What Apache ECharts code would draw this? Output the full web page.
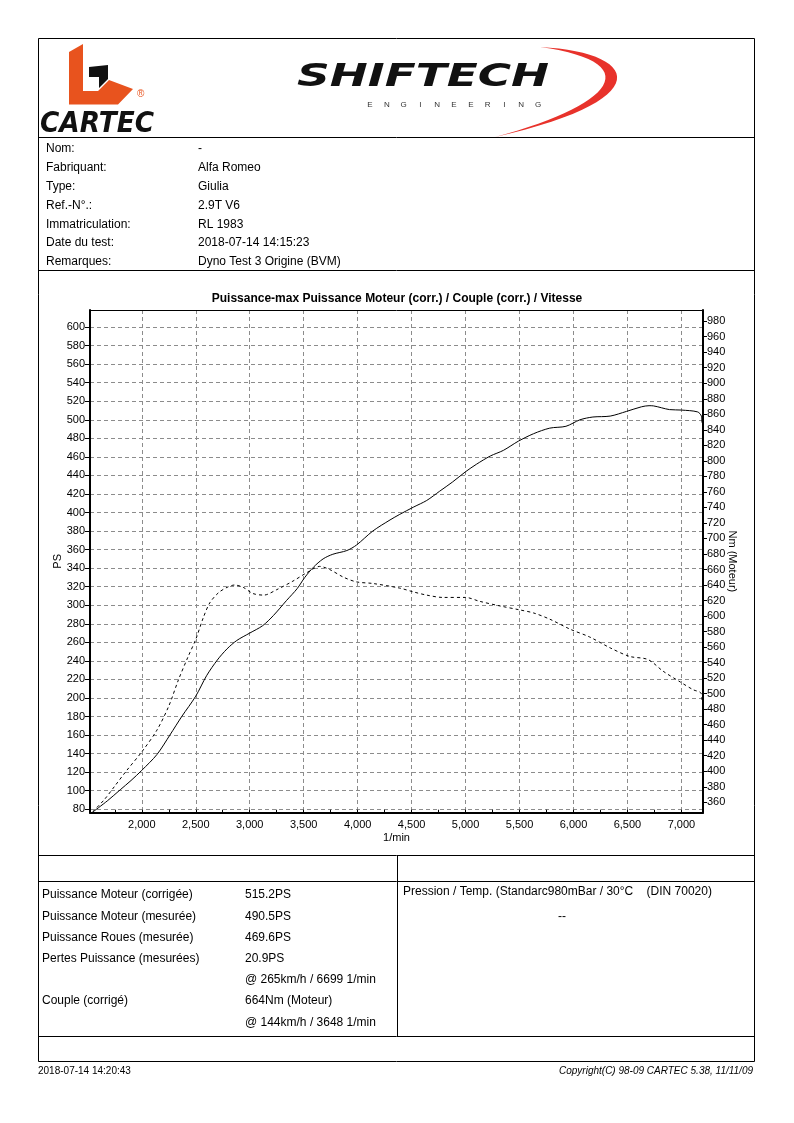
<!DOCTYPE html>
<html>
<head>
<meta charset="utf-8">
<title>Puissance / Couple</title>
<script src="https://cdn.jsdelivr.net/npm/echarts@6/dist/echarts.min.js"></script>
<style>
html, body { margin: 0; padding: 0; background: #fff; }
#container { width: 794px; height: 1123px; }
</style>
</head>
<body>
<div id="container"></div>
<script>
var powerRpm = [1545, 1680, 1800, 1900, 2000, 2140, 2260, 2370, 2500, 2600, 2700, 2790, 2880, 3000, 3120, 3220, 3340, 3440, 3510, 3590, 3680, 3770, 3900, 3990, 4140, 4300, 4390, 4520, 4640, 4760, 4880, 5000, 5100, 5230, 5350, 5490, 5630, 5780, 5930, 6060, 6180, 6340, 6490, 6630, 6700, 6740, 6890, 7000, 7150, 7185, 7190];
var powerPs = [77, 89, 101, 111, 122, 139, 160, 180, 202, 224, 241, 253, 262, 270, 278, 289, 305, 318, 330, 341, 350, 355, 359, 365, 380, 392, 398, 406, 413, 423, 433, 444, 452, 461, 467, 477, 485, 491, 493, 500, 503, 504, 509, 514, 515.2, 515, 511, 510.5, 508.5, 504, 497];
var torqueRpm = [1545, 1650, 1750, 1860, 2000, 2140, 2250, 2340, 2430, 2500, 2570, 2630, 2710, 2790, 2860, 2940, 3030, 3130, 3250, 3400, 3530, 3648, 3740, 3870, 3990, 4140, 4390, 4520, 4640, 4790, 5000, 5130, 5320, 5500, 5630, 5780, 5970, 6150, 6340, 6520, 6690, 6830, 6990, 7110, 7180, 7190];
var torqueNm = [348, 363, 381, 401, 425, 453, 484, 518, 548, 570, 598, 617, 630, 637, 640, 637, 629, 627, 634, 645, 656, 664, 660, 650, 644, 642, 636, 631, 627, 624, 624, 619, 613, 608, 604, 596, 583, 573, 559, 548, 544, 529, 515, 505, 501, 492];

// graduations
var rpmLabels = [2000, 2500, 3000, 3500, 4000, 4500, 5000, 5500, 6000, 6500, 7000];
var rpmTicks = [1750, 2000, 2250, 2500, 2750, 3000, 3250, 3500, 3750, 4000, 4250, 4500, 4750, 5000, 5250, 5500, 5750, 6000, 6250, 6500, 6750, 7000];
var psTicks = [80, 100, 120, 140, 160, 180, 200, 220, 240, 260, 280, 300, 320, 340, 360, 380, 400, 420, 440, 460, 480, 500, 520, 540, 560, 580, 600];
var nmTicks = [360, 380, 400, 420, 440, 460, 480, 500, 520, 540, 560, 580, 600, 620, 640, 660, 680, 700, 720, 740, 760, 780, 800, 820, 840, 860, 880, 900, 920, 940, 960, 980];

// fiche
var infoLabels = ['Nom:', 'Fabriquant:', 'Type:', 'Ref.-N°.:', 'Immatriculation:', 'Date du test:', 'Remarques:'];
var infoValues = ['-', 'Alfa Romeo', 'Giulia', '2.9T V6', 'RL 1983', '2018-07-14 14:15:23', 'Dyno Test 3 Origine (BVM)'];
var resLabels = ['Puissance Moteur (corrigée)', 'Puissance Moteur (mesurée)', 'Puissance Roues (mesurée)', 'Pertes Puissance (mesurées)', '', 'Couple (corrigé)', ''];
var resValues = ['515.2PS', '490.5PS', '469.6PS', '20.9PS', '@ 265km/h / 6699 1/min', '664Nm (Moteur)', '@ 144km/h / 3648 1/min'];

var FONT = '"Liberation Sans", Arial, sans-serif';

function txt(x, y, s, opt) {
    opt = opt || {};
    return {
        type: 'text', x: x, y: y, silent: true,
        scaleX: opt.sx || 1,
        style: {
            text: s, x: 0, y: 0,
            fontSize: opt.size || 12,
            fontFamily: opt.family || FONT,
            fontWeight: opt.weight || 'normal',
            fontStyle: opt.style || 'normal',
            fill: opt.color || '#000',
            align: opt.align || 'left',
            verticalAlign: 'middle'
        }
    };
}

function hline(x1, x2, y) {
    return {type: 'line', silent: true, shape: {x1: x1, y1: y, x2: x2, y2: y}, style: {stroke: '#000', lineWidth: 1}};
}

function vline(x, y1, y2) {
    return {type: 'line', silent: true, shape: {x1: x, y1: y1, x2: x, y2: y2}, style: {stroke: '#000', lineWidth: 1}};
}

// points d'une courbe de Bézier cubique (pour le logo)
function bez(p0, p1, p2, p3, n) {
    var pts = [];
    for (var t = 0; t <= n; t++) {
        var u = t / n, a = (1 - u) * (1 - u) * (1 - u), b = 3 * u * (1 - u) * (1 - u), c = 3 * u * u * (1 - u), d = u * u * u;
        pts.push([a * p0[0] + b * p1[0] + c * p2[0] + d * p3[0], a * p0[1] + b * p1[1] + c * p2[1] + d * p3[1]]);
    }
    return pts;
}

function rpmFmt(v) {
    var s = String(v);
    return s.slice(0, s.length - 3) + ',' + s.slice(s.length - 3);
}

var graphics = [];
// cadre et séparations
graphics.push({type: 'rect', silent: true, shape: {x: 38.5, y: 38.5, width: 716, height: 1023}, style: {fill: 'none', stroke: '#000', lineWidth: 1}});
graphics.push(hline(38.5, 754.5, 137.5));
graphics.push(hline(38.5, 754.5, 270.5));
graphics.push(hline(38.5, 754.5, 855.5));
graphics.push(hline(38.5, 754.5, 881.5));
graphics.push(hline(38.5, 754.5, 1036.5));
graphics.push(vline(397.5, 855.5, 1036.5));

// logo CARTEC
graphics.push({type: 'polygon', silent: true, shape: {points: [[69, 52], [83, 44], [83, 91], [98, 91], [109, 80], [133, 89], [118, 104.5], [69, 104.5]]}, style: {fill: '#e8531e'}});
graphics.push({type: 'polygon', silent: true, shape: {points: [[89, 67], [108, 65], [108, 79], [99, 88], [99, 77], [89, 77]]}, style: {fill: '#111'}});
graphics.push(txt(137, 94, '®', {size: 10, color: '#e8531e'}));
graphics.push(txt(40, 125, 'CARTEC', {size: 28, weight: 'bold', style: 'italic', family: '"DejaVu Sans", sans-serif', sx: 0.94, color: '#111'}));

// logo SHIFTECH
var swoosh = bez([540, 47], [640, 52], [660, 100], [495, 137], 30).concat(bez([495, 137], [615, 105], [648, 62], [540, 47], 30));
graphics.push({type: 'polygon', silent: true, shape: {points: swoosh}, style: {fill: '#e8322b'}});
graphics.push(txt(297, 78, 'SHIFTECH', {size: 32, weight: 'bold', style: 'italic', family: '"DejaVu Sans", sans-serif', sx: 1.42, color: '#111'}));
var eng = 'ENGINEERING';
for (var k = 0; k < eng.length; k++) {
    graphics.push(txt(370 + k * 16.8, 105, eng.charAt(k), {size: 8, align: 'center', color: '#333'}));
}

// fiche véhicule
for (var i = 0; i < infoLabels.length; i++) {
    graphics.push(txt(46, 149 + i * 18.8, infoLabels[i]));
    graphics.push(txt(198, 149 + i * 18.8, infoValues[i]));
}

// résultats
for (var j = 0; j < resLabels.length; j++) {
    if (resLabels[j]) graphics.push(txt(42, 895 + j * 21.2, resLabels[j]));
    graphics.push(txt(245, 895 + j * 21.2, resValues[j]));
}
graphics.push(txt(403, 892, 'Pression / Temp. (Standarc980mBar / 30°C    (DIN 70020)'));
graphics.push(txt(562, 917, '--', {align: 'center'}));

// pied de page
graphics.push(txt(38, 1071, '2018-07-14 14:20:43', {size: 10}));
graphics.push(txt(753, 1071, 'Copyright(C) 98-09 CARTEC 5.38, 11/11/09', {size: 10, style: 'italic', align: 'right'}));

var powerData = powerRpm.map(function (r, i) { return [r, powerPs[i]]; });
var torqueData = torqueRpm.map(function (r, i) { return [r, torqueNm[i]]; });

var gridDash = {color: '#8c8c8c', width: 1, type: [4, 3]};
var axisText = {color: '#000', fontSize: 11, fontFamily: FONT};

var myChart = echarts.init(document.getElementById('container'), null, {renderer: 'canvas'});
var option = {
    animation: false,
    backgroundColor: '#fff',
    title: {
        text: 'Puissance-max Puissance Moteur (corr.) / Couple (corr.) / Vitesse',
        left: 'center',
        top: 288,
        textStyle: {fontSize: 12, fontWeight: 'bold', color: '#000', fontFamily: FONT}
    },
    grid: {left: 90, top: 310, width: 613, height: 502.7, containLabel: false},
    xAxis: [
        {
            type: 'value', min: 1520, max: 7200, position: 'bottom',
            axisLine: {show: true, lineStyle: {color: '#000', width: 2}},
            axisTick: {show: true, inside: true, length: 3, customValues: rpmTicks, lineStyle: {color: '#000', width: 1}},
            axisLabel: {show: true, customValues: rpmLabels, formatter: rpmFmt, margin: 7, color: axisText.color, fontSize: axisText.fontSize, fontFamily: FONT},
            splitLine: {show: false},
            name: '1/min', nameLocation: 'middle', nameGap: 20, nameMoveOverlap: false,
            nameTextStyle: axisText
        },
        {
            type: 'value', min: 1520, max: 7200, position: 'top',
            axisLine: {show: true, lineStyle: {color: '#000', width: 1}},
            axisTick: {show: false, customValues: rpmLabels},
            axisLabel: {show: false, customValues: rpmLabels},
            splitLine: {show: true, lineStyle: gridDash}
        }
    ],
    yAxis: [
        {
            type: 'value', min: 76.3, max: 618.4, position: 'left',
            axisLine: {show: true, lineStyle: {color: '#000', width: 2}},
            axisTick: {show: true, length: 5, customValues: psTicks, lineStyle: {color: '#000', width: 1}},
            axisLabel: {show: true, customValues: psTicks, margin: 5, color: '#000', fontSize: 11, fontFamily: FONT},
            splitLine: {show: true, lineStyle: gridDash},
            name: 'PS', nameLocation: 'middle', nameGap: 27, nameRotate: 90, nameMoveOverlap: false,
            nameTextStyle: axisText
        },
        {
            type: 'value', min: 346.6, max: 994.4, position: 'right',
            axisLine: {show: true, lineStyle: {color: '#000', width: 2}},
            axisTick: {show: true, length: 4, customValues: nmTicks, lineStyle: {color: '#000', width: 1}},
            axisLabel: {show: true, customValues: nmTicks, margin: 4, color: '#000', fontSize: 11, fontFamily: FONT},
            splitLine: {show: false},
            name: 'Nm (Moteur)', nameLocation: 'middle', nameGap: 24, nameRotate: -90, nameMoveOverlap: false,
            nameTextStyle: axisText
        }
    ],
    graphic: graphics,
    series: [
        {
            name: 'Puissance Moteur (corr.)',
            type: 'line', xAxisIndex: 0, yAxisIndex: 0,
            data: powerData,
            symbol: 'none', smooth: 0.3,
            lineStyle: {color: '#000', width: 1},
            z: 4
        },
        {
            name: 'Couple (corr.)',
            type: 'line', xAxisIndex: 0, yAxisIndex: 1,
            data: torqueData,
            symbol: 'none', smooth: 0.3,
            lineStyle: {color: '#000', width: 1, type: [3, 3]},
            z: 4
        }
    ]
};
myChart.setOption(option);
</script>
</body>
</html>
